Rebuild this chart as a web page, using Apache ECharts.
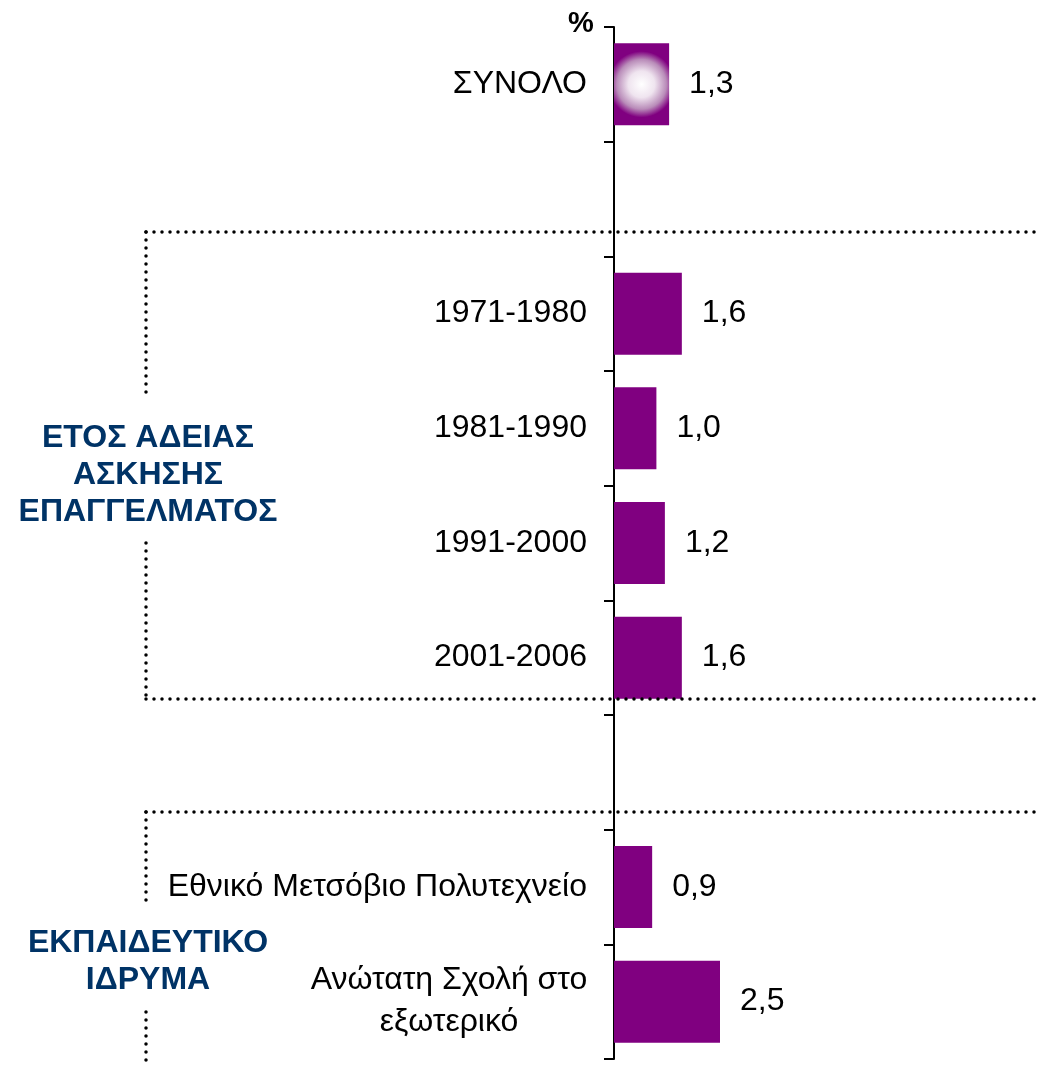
<!DOCTYPE html>
<html>
<head>
<meta charset="utf-8">
<script src="https://cdn.jsdelivr.net/npm/echarts@6/dist/echarts.min.js"></script>
<style>
  html, body { margin: 0; padding: 0; background: #fff; }
  #chart { width: 1038px; height: 1066px; }
</style>
</head>
<body>
<div id="chart"></div>
<script>
// categories, top to bottom ("" = empty gap slot)
var categories = [
  "ΣΥΝΟΛΟ",
  "",
  "1971-1980",
  "1981-1990",
  "1991-2000",
  "2001-2006",
  "",
  "Εθνικό Μετσόβιο Πολυτεχνείο",
  "Ανώτατη Σχολή στο\nεξωτερικό"
];
var values = [1.3, null, 1.6, 1.0, 1.2, 1.6, null, 0.9, 2.5];
var groupTitles = ["ΕΤΟΣ ΑΔΕΙΑΣ\nΑΣΚΗΣΗΣ\nΕΠΑΓΓΕΛΜΑΤΟΣ", "ΕΚΠΑΙΔΕΥΤΙΚΟ\nΙΔΡΥΜΑ"];

var purple = "#800080";
var navy = "#003366";
var font = "'Liberation Sans', Arial, sans-serif";

var barData = values.map(function (v, i) {
  if (i === 0) {
    return {
      value: v,
      itemStyle: {
        color: {
          type: "radial", x: 0.5, y: 0.5, r: 0.6,
          colorStops: [
            { offset: 0, color: "#ffffff" },
            { offset: 0.4, color: "#efe4ef" },
            { offset: 0.75, color: "#b98cb9" },
            { offset: 1, color: purple }
          ]
        }
      }
    };
  }
  return v;
});

var myChart = echarts.init(document.getElementById("chart"));

function dotted(x1, y1, x2, y2) {
  return {
    type: "line",
    shape: { x1: x1, y1: y1, x2: x2, y2: y2 },
    style: { stroke: "#000", lineWidth: 3.5, lineDash: [0, 8], lineCap: "round" },
    z: 10
  };
}

var option = {
  animation: false,
  grid: { left: 614, right: 0, top: 27, bottom: 7 },
  xAxis: {
    type: "value",
    min: 0,
    max: 10,
    show: false
  },
  yAxis: {
    type: "category",
    inverse: true,
    data: categories,
    axisLine: { show: true, lineStyle: { color: "#000", width: 2 } },
    axisTick: { show: true, length: 10, lineStyle: { color: "#000", width: 2 } },
    axisLabel: {
      margin: 27,
      color: "#000",
      fontFamily: font,
      fontSize: 32,
      lineHeight: 40,
      formatter: function (val) {
        var lines = val.split("\n");
        if (lines.length > 1) {
          return lines.map(function (l) { return "{c|" + l + "}"; }).join("\n");
        }
        return val;
      },
      rich: {
        c: { width: 276, align: "center", fontSize: 32, fontFamily: font, color: "#000", lineHeight: 42 }
      }
    },
    splitLine: { show: false }
  },
  series: [
    {
      type: "bar",
      data: barData,
      barWidth: 82,
      itemStyle: { color: purple },
      label: {
        show: true,
        position: "right",
        distance: 20,
        color: "#000",
        fontFamily: font,
        fontSize: 32,
        formatter: function (p) {
          return p.value == null ? "" : p.value.toFixed(1).replace(".", ",");
        }
      }
    }
  ],
  graphic: [
    {
      type: "text",
      left: 568,
      top: 9,
      style: { text: "%", font: "bold 29px " + font, fill: "#000" }
    },
    {
      type: "text",
      x: 148,
      y: 475,
      style: {
        text: groupTitles[0],
        font: "bold 32px " + font,
        fill: navy,
        align: "center",
        verticalAlign: "middle",
        lineHeight: 37
      }
    },
    {
      type: "text",
      x: 148,
      y: 962,
      style: {
        text: groupTitles[1],
        font: "bold 32px " + font,
        fill: navy,
        align: "center",
        verticalAlign: "middle",
        lineHeight: 37
      }
    },
    dotted(146, 232, 1038, 232),
    dotted(146, 232, 146, 400),
    dotted(146, 543, 146, 699),
    dotted(146, 699, 1038, 699),
    dotted(146, 812, 1038, 812),
    dotted(146, 812, 146, 908),
    dotted(146, 1012, 146, 1066)
  ]
};

myChart.setOption(option);
</script>
</body>
</html>
